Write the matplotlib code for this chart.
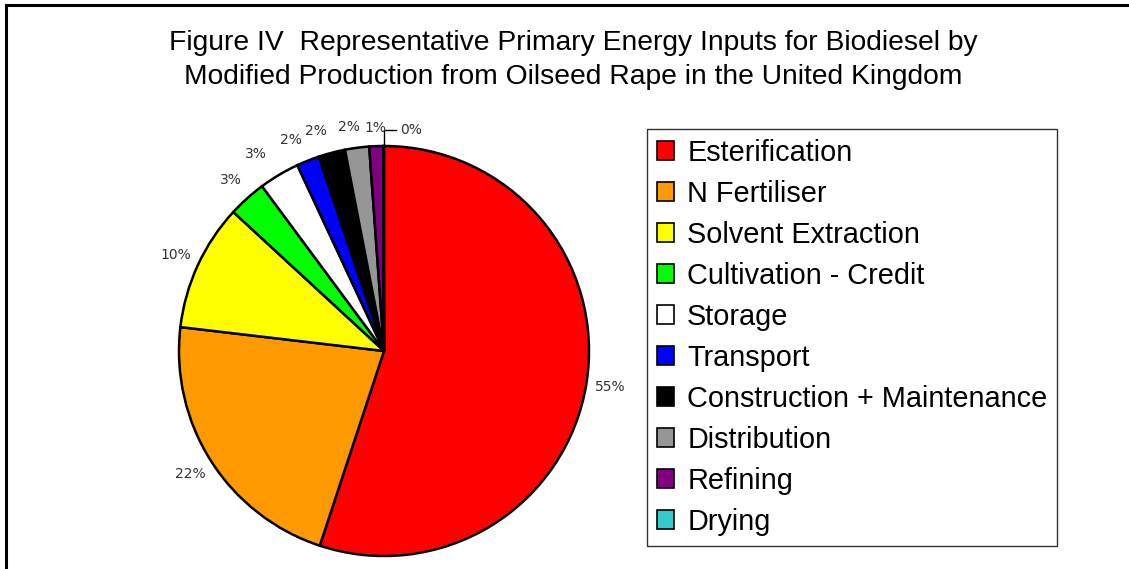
import matplotlib.pyplot as plt
import numpy as np
from matplotlib.patches import Patch
from matplotlib.lines import Line2D

categories = ['Esterification', 'N Fertiliser', 'Solvent Extraction', 'Cultivation - Credit',
              'Storage', 'Transport', 'Construction + Maintenance', 'Distribution',
              'Refining', 'Drying']
shares = [55.1, 21.8, 10.0, 3.0, 3.2, 1.8, 2.1, 1.9, 1.1, 0.05]
colours = ['#ff0000', '#ff9900', '#ffff00', '#00ff00', '#ffffff', '#0000ff',
           '#000000', '#969696', '#800080', '#33cccc']

plt.rcParams['font.family'] = ['Liberation Sans', 'DejaVu Sans']

fig = plt.figure(figsize=(11.29, 5.69), dpi=100)

# frame around the figure (top and left only visible)
fig.add_artist(Line2D([6/1129, 6/1129], [0, 1 - 5/569], color='black', lw=2.2))
fig.add_artist(Line2D([6/1129, 1], [1 - 5/569, 1 - 5/569], color='black', lw=2.2))

fig.text(573/1129, 1 - 43/569, 'Figure IV  Representative Primary Energy Inputs for Biodiesel by',
         ha='center', va='center', fontsize=20.3)
fig.text(573/1129, 1 - 77/569, 'Modified Production from Oilseed Rape in the United Kingdom',
         ha='center', va='center', fontsize=20.3)

# pie axes: centre (384, 351), radius ~205 px
r = 205
ax = fig.add_axes([(384 - r) / 1129, 1 - (351 + r) / 569, 2 * r / 1129, 2 * r / 569])
wedges, texts = ax.pie(shares, colors=colours, startangle=90, counterclock=False,
                       wedgeprops=dict(edgecolor='black', linewidth=1.8),
                       labels=[f'{v:.0f}%' for v in shares], labeldistance=1.12,
                       textprops=dict(fontsize=10, color='#333333', family='DejaVu Sans'))
ax.set_xlim(-1, 1)
ax.set_ylim(-1, 1)
ax.set_aspect('auto')

for t in texts:
    t.set_ha('center')
    t.set_va('center')

# the small top labels sit a little lower and to the left
nudges = {4: (-0.05, 0.0), 5: (-0.04, -0.01), 6: (-0.045, -0.01), 7: (-0.025, -0.02), 8: (0.0, -0.03)}
for i, (dx, dy) in nudges.items():
    px, py = texts[i].get_position()
    texts[i].set_position((px + dx, py + dy))

# 0% label with leader line
texts[9].set_visible(False)
w = wedges[9]
th = np.deg2rad((w.theta1 + w.theta2) / 2)
x0, y0 = np.cos(th), np.sin(th)
ax.plot([x0, x0, x0 + 0.06], [y0, y0 + 0.08, y0 + 0.08], color='black', lw=1, clip_on=False)
ax.text(x0 + 0.08, y0 + 0.08, '0%', ha='left', va='center', fontsize=10,
        color='#333333', family='DejaVu Sans')

handles = [Patch(facecolor=c, edgecolor='black', linewidth=1.2) for c in colours]
leg = fig.legend(handles, categories, loc='upper left',
                 bbox_to_anchor=(647/1129, 1 - 129/569), fontsize=20.8,
                 frameon=True, fancybox=False, edgecolor='black',
                 handlelength=0.6, handleheight=0.6, handletextpad=0.45,
                 labelspacing=0.45, borderpad=0.34, borderaxespad=0)
leg.get_frame().set_linewidth(1.0)

fig.savefig('out.png', dpi=100)
